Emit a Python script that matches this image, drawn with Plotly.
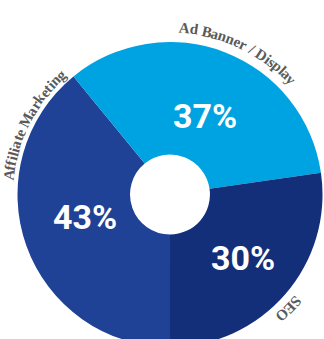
import math
import plotly.graph_objects as go

# Channel shares (percent)
categories = ["Affiliate Marketing", "Ad Banner / Display", "SEO"]
shares = [43, 37, 30]
slice_colors = ["#1f4196", "#00a3e1", "#132f7a"]

# Canvas and ring geometry (pixels)
W, H = 324, 352
CX, CY = 170.0, 194.5
R_OUT = 152.5
HOLE = 0.262

fig = go.Figure(
    go.Pie(
        labels=categories,
        values=shares,
        sort=False,
        direction="clockwise",
        rotation=180,
        hole=HOLE,
        marker=dict(colors=slice_colors, line=dict(width=0)),
        textinfo="none",
        hoverinfo="label+value",
        showlegend=False,
        domain=dict(
            x=[(CX - R_OUT) / W, (CX + R_OUT) / W],
            y=[1 - (CY + R_OUT) / H, 1 - (CY - R_OUT) / H],
        ),
    )
)


def to_paper(angle_deg, radius):
    a = math.radians(angle_deg)
    px = CX + radius * math.sin(a)
    py = CY - radius * math.cos(a)
    return px / W, 1 - py / H


# Percentage labels inside each slice: (angle from 12 o'clock, radius)
pct_label_pos = [(255, 88), (24, 86), (131, 97)]
for v, (ang, rad) in zip(shares, pct_label_pos):
    x, y = to_paper(ang, rad)
    fig.add_annotation(
        x=x, y=y, xref="paper", yref="paper", showarrow=False,
        text=f"{v}%", xanchor="center", yanchor="middle",
        font=dict(family="Roboto, sans-serif", size=34, color="white",
                  weight="bold"),
    )

# Serif bold advance widths (1/1000 em) for the curved category names
ADV = {
    "A": 722, "B": 667, "D": 722, "E": 667, "M": 944, "O": 778, "S": 556,
    "a": 500, "d": 556, "e": 444, "f": 333, "g": 500, "i": 278, "k": 556,
    "l": 278, "n": 556, "p": 556, "r": 444, "s": 389, "t": 333, "y": 500,
    " ": 250, "/": 278,
}
LABEL_SIZE = 15
# Centre angle and radius of each curved name along the ring
label_angles = [297, 25.5, 134]
label_radii = [162, 167, 165]

for name, center, rad in zip(categories, label_angles, label_radii):
    widths = [ADV.get(c, 500) * LABEL_SIZE / 1000 for c in name]
    total = sum(widths)
    cum = 0.0
    for ch, w in zip(name, widths):
        offset = cum + w / 2 - total / 2
        ang = center + math.degrees(offset / rad)
        cum += w
        if ch == " ":
            continue
        x, y = to_paper(ang, rad)
        ta = ((ang + 180) % 360) - 180
        fig.add_annotation(
            x=x, y=y, xref="paper", yref="paper", showarrow=False,
            text=ch, textangle=ta, xanchor="center", yanchor="middle",
            font=dict(family="Liberation Serif, serif", size=LABEL_SIZE,
                      color="#5a5a5a", weight="bold"),
        )

fig.update_layout(
    width=W, height=H,
    margin=dict(l=0, r=0, t=0, b=0),
    paper_bgcolor="white",
    plot_bgcolor="white",
)

fig.write_html("out.html")
